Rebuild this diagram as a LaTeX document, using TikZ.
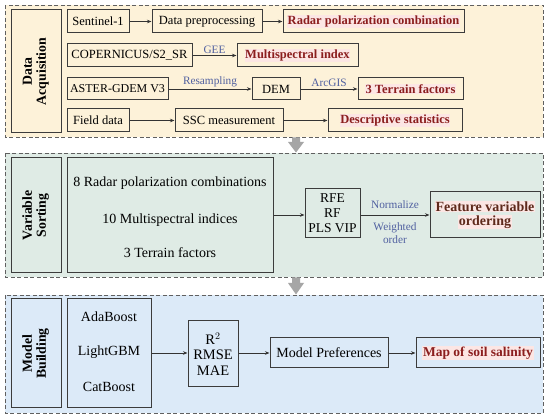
\documentclass[tikz,border=0pt]{standalone}
\usepackage{fontspec}
\setmainfont{Liberation Serif}
\usetikzlibrary{arrows.meta}
\definecolor{pA}{HTML}{FDF2D9}
\definecolor{pB}{HTML}{DFEBE5}
\definecolor{pC}{HTML}{DCEAF8}
\definecolor{dred}{HTML}{8B1E1E}
\definecolor{dbrown}{HTML}{5E2A1C}
\definecolor{lblue}{HTML}{5060A0}
\definecolor{edge}{HTML}{3C3C3C}
\definecolor{hl}{HTML}{FCE6E4}
\setlength{\fboxsep}{0.6pt}
\tikzset{
  panel/.style={draw=gray!75!black, dashed, line width=0.8pt, dash pattern=on 4pt off 2.5pt},
  box/.style={draw=edge, line width=1pt, rectangle, inner sep=1pt, align=center, font=\fontsize{12.5}{14}\selectfont},
  side/.style={box, font=\fontsize{13.8}{15}\selectfont\bfseries},
  res/.style={box, text=dred, font=\fontsize{12.5}{14}\selectfont\bfseries},
  lbl/.style={text=lblue, font=\fontsize{11.3}{12.5}\selectfont, align=center, inner sep=1pt},
  plain/.style={font=\fontsize{14}{16}\selectfont, inner sep=1pt},
  arr/.style={-{Stealth[length=4.5pt,width=3.5pt]}, line width=0.7pt, black!80},
  bigarrow/.style={fill=gray!70, draw=none}
}
\begin{document}
\begin{tikzpicture}[x=1pt,y=-1pt]
\useasboundingbox (0,0) rectangle (550,417);
\fill[white] (0,0) rectangle (550,417);
% panels
\filldraw[panel, fill=pA] (5,5) rectangle (543,137);
\filldraw[panel, fill=pB] (5,153) rectangle (543,277);
\filldraw[panel, fill=pC] (5,295) rectangle (543,413);
% big arrows
\fill[bigarrow] (292,137.5) -- (300,137.5) -- (300,142) -- (304,142) -- (296,152.5) -- (288,142) -- (292,142) -- cycle;
\fill[bigarrow] (292,277.5) -- (300,277.5) -- (300,283) -- (304,283) -- (296,294.5) -- (288,283) -- (292,283) -- cycle;
% panel 1
\node[side, minimum width=50pt, minimum height=123pt, fill=pA] (da) at (36,71.5) {\rotatebox{90}{\begin{tabular}{@{}c@{}}Data\\[-1pt]Acquisition\end{tabular}}};
\node[box, minimum width=62pt, minimum height=23pt, fill=pA] (s1) at (98,21.5) {Sentinel-1};
\node[box, minimum width=110pt, minimum height=23pt, fill=pA] (dp) at (207,21.5) {Data preprocessing};
\node[res, minimum width=181pt, minimum height=23pt, fill=pA] (rpc) at (373.5,21.5) {\colorbox{hl}{Radar polarization combination}};
\node[box, minimum width=125pt, minimum height=23pt, fill=pA] (cop) at (129.5,55.5) {COPERNICUS/S2\_SR};
\node[res, minimum width=121pt, minimum height=23pt, fill=pA] (mi) at (297.5,55.5) {\colorbox{hl}{Multispectral index}};
\node[box, minimum width=101pt, minimum height=22pt, fill=pA, font=\fontsize{12}{14}\selectfont] (ast) at (117.5,89) {ASTER-GDEM V3};
\node[box, minimum width=48pt, minimum height=22pt, fill=pA] (dem) at (276,89) {DEM};
\node[res, minimum width=105pt, minimum height=22pt, fill=pA] (tf) at (410.5,89) {\colorbox{hl}{3 Terrain factors}};
\node[box, minimum width=62pt, minimum height=23pt, fill=pA] (fd) at (98,120.5) {Field data};
\node[box, minimum width=108pt, minimum height=23pt, fill=pA] (ssc) at (229,120.5) {SSC measurement};
\node[res, minimum width=134pt, minimum height=23pt, fill=pA] (ds) at (395,120.5) {\colorbox{hl}{Descriptive statistics}};
\draw[arr] (s1) -- (dp);
\draw[arr] (dp) -- (rpc);
\draw[arr] (cop) -- node[lbl, above=1pt] (gee) {GEE} (mi);
\draw[arr] (ast) -- node[lbl, above=1pt] (rs) {Resampling} (dem);
\draw[arr] (dem) -- node[lbl, above=1pt] (ag) {ArcGIS} (tf);
\draw[arr] (fd) -- (ssc);
\draw[arr] (ssc) -- (ds);
% panel 2
\node[side, minimum width=50pt, minimum height=115pt, fill=pB] (vs) at (36,215.5) {\rotatebox{90}{\begin{tabular}{@{}c@{}}Variable\\[-1pt]Sorting\end{tabular}}};
\node[box, minimum width=206pt, minimum height=115pt, fill=pB] (vars) at (170,215.5) {};
\node[plain] (v1) at (170,183) {8 Radar polarization combinations};
\node[plain] (v2) at (170,220) {10 Multispectral indices};
\node[plain] (v3) at (170,253) {3 Terrain factors};
\node[box, minimum width=55pt, minimum height=49pt, fill=pB, font=\fontsize{13.5}{15}\selectfont] (rfe) at (332.5,213.5) {RFE\\RF\\PLS VIP};
\node[box, minimum width=110pt, minimum height=46pt, fill=pB, text=dbrown, font=\fontsize{14}{16}\selectfont\bfseries] (fvo) at (485,215) {\colorbox{hl}{Feature variable}\\[-2pt]\colorbox{hl}{ordering}};
\draw[arr] (vars.east |- 0,215) -- (rfe.west |- 0,215);
\draw[arr] (rfe.east |- 0,215) -- (fvo.west |- 0,215);
\node[lbl] (nz) at (395,205) {Normalize};
\node[lbl] (wo) at (395,233) {Weighted\\order};
% panel 3
\node[side, minimum width=50pt, minimum height=109pt, fill=pC] (mb) at (36,353.5) {\rotatebox{90}{\begin{tabular}{@{}c@{}}Model\\[-1pt]Building\end{tabular}}};
\node[box, minimum width=84pt, minimum height=109pt, fill=pC] (alg) at (109,353.5) {};
\node[plain] (a1) at (109,317) {AdaBoost};
\node[plain] (a2) at (109,352) {LightGBM};
\node[plain] (a3) at (109,387) {CatBoost};
\node[box, minimum width=50pt, minimum height=66pt, fill=pC, font=\fontsize{14.5}{15.5}\selectfont] (met) at (213,354) {R$^2$\\RMSE\\MAE};
\node[box, minimum width=118pt, minimum height=30pt, fill=pC, font=\fontsize{14}{15}\selectfont] (mp) at (329,353) {Model Preferences};
\node[res, minimum width=124pt, minimum height=30pt, fill=pC, font=\fontsize{13.5}{15}\selectfont\bfseries] (map) at (478,353) {\colorbox{hl}{Map of soil salinity}};
\draw[arr] (alg.east |- 0,353) -- (met.west |- 0,353);
\draw[arr] (met.east |- 0,353) -- (mp.west |- 0,353);
\draw[arr] (mp) -- (map);
\end{tikzpicture}
\end{document}
